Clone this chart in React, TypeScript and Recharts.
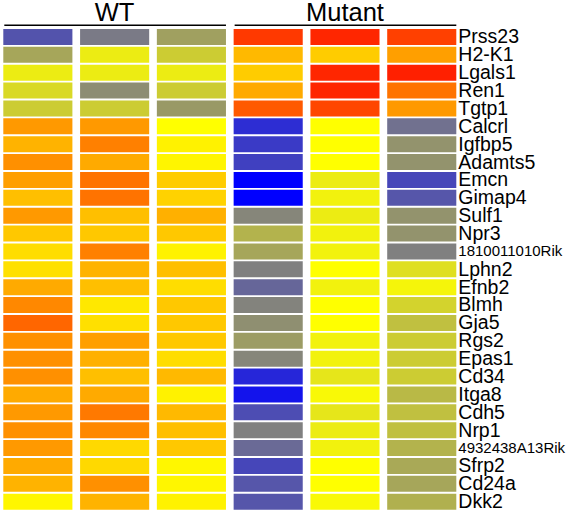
import React from 'react';
import { BarChart, Bar, XAxis, YAxis, Cell } from 'recharts';

const genes = [
  'Prss23', 'H2-K1', 'Lgals1', 'Ren1', 'Tgtp1', 'Calcrl', 'Igfbp5', 'Adamts5', 'Emcn',
  'Gimap4', 'Sulf1', 'Npr3', '1810011010Rik', 'Lphn2', 'Efnb2', 'Blmh', 'Gja5', 'Rgs2',
  'Epas1', 'Cd34', 'Itga8', 'Cdh5', 'Nrp1', '4932438A13Rik', 'Sfrp2', 'Cd24a', 'Dkk2',
];

const groups = ['WT', 'Mutant'];

// relative expression per sample (column)
const wt1 = [-1.35, -0.7, -0.15, -0.3, -0.4, 0.8, 0.6, 0.87, 0.75, 0.5, 0.8, 0.43, 0.27, 0.24, 0.67, 0.93, 1.2, 0.87, 0.87, 0.87, 0.67, 0.8, 0.87, 0.8, 0.67, 0.6, 0.07];
const wt2 = [-1.05, -0.15, -0.15, -0.9, -0.4, 0.8, 1.0, 0.67, 1.1, 1.1, 0.5, 0.43, 1.0, 0.6, 0.5, 0.18, 0.24, 0.75, 0.62, 0.5, 0.67, 1.05, 0.93, 0.3, 0.3, 0.87, 0.6];
const wt3 = [-0.75, -0.4, -0.15, -0.4, -0.8, 0.0, 0.1, 0.08, 0.4, 0.35, 0.62, 0.43, 0.1, 0.5, 0.27, 0.43, 0.43, 0.43, 0.27, 0.55, 0.1, 0.55, 0.5, 0.43, 0.06, 0.07, 0.1];
const mut1 = [1.55, 0.55, 0.4, 0.67, 1.3, -1.65, -1.55, -1.5, -2.0, -2.0, -0.95, -0.6, -0.7, -1.0, -1.2, -0.98, -0.88, -0.78, -0.95, -1.7, -1.85, -1.4, -1.0, -1.17, -1.45, -1.33, -1.33];
const mut2 = [1.7, 0.4, 1.7, 1.7, 1.45, 0.0, 0.0, 0.0, -0.15, -0.1, -0.15, -0.1, -0.1, 0.0, -0.1, 0.0, 0.0, -0.1, -0.1, -0.2, -0.05, -0.2, -0.15, -0.1, 0.0, 0.0, -0.05];
const mut3 = [1.5, 0.75, 1.75, 1.1, 0.8, -1.12, -0.85, -0.85, -1.45, -1.33, -0.85, -0.85, -1.0, -0.25, -0.08, -0.35, -0.5, -0.4, -0.4, -0.4, -0.55, -0.5, -0.5, -0.6, -0.68, -0.7, -0.62];

const columns = [wt1, wt2, wt3, mut1, mut2, mut3];

const data = genes.map((gene, i) => ({ gene, row: i }));

// blue -> grey -> yellow -> red
const stops: [number, number[]][] = [
  [-2, [0, 0, 255]],
  [-1, [128, 128, 128]],
  [0, [255, 255, 0]],
  [2, [255, 0, 0]],
];

function heat(v: number) {
  const t = Math.max(-2, Math.min(2, v));
  for (let k = 0; k < stops.length - 1; k++) {
    const [a, ca] = stops[k];
    const [b, cb] = stops[k + 1];
    if (t <= b) {
      const f = (t - a) / (b - a);
      const c = ca.map((x, j) => Math.round(x + (cb[j] - x) * f));
      return `rgb(${c[0]},${c[1]},${c[2]})`;
    }
  }
  return 'rgb(255,0,0)';
}

const W = 567;
const H = 513;
const AXIS_W = 108;
const M = { top: 28, right: 110.7 - AXIS_W, bottom: 2.5, left: 3.3 };
const CELL = 0.9;
const GAP = 0.1;
const X_MAX = columns.length * CELL + (columns.length - 1) * GAP;
const plotW = W - M.left - M.right - AXIS_W;
const toPx = (u: number) => M.left + (u / X_MAX) * plotW;

const font = '"Liberation Sans", Arial, sans-serif';

const GeneTick = (props: any) => {
  const { x, y, payload } = props;
  const long = String(payload.value).length > 10;
  return (
    <text x={x} y={y} dy={long ? 4.8 : 6.5} fontSize={long ? 15 : 19.5} fill="#000" fontFamily={font} textAnchor="start">
      {payload.value}
    </text>
  );
};

const Header = () => (
  <g>
    {groups.map((g, gi) => {
      const u0 = gi * 3 * (CELL + GAP);
      const u1 = u0 + 3 * CELL + 2 * GAP;
      const x0 = toPx(u0);
      const x1 = toPx(u1);
      return (
        <g key={g}>
          <text x={(x0 + x1) / 2} y={20.7} textAnchor="middle" fontSize={25.5} fontFamily={font} fill="#000">
            {g}
          </text>
          <line x1={x0 + 1} x2={x1} y1={25.3} y2={25.3} stroke="#000" strokeWidth={1.6} />
        </g>
      );
    })}
  </g>
);

export default function App() {
  return (
    <div style={{ position: 'absolute', left: 0, top: 0, width: W, height: H, background: '#fff' }}>
      <BarChart width={W} height={H} data={data} layout="vertical" margin={M} barCategoryGap={1}>
        <XAxis type="number" domain={[0, X_MAX]} hide />
        <YAxis
          type="category"
          dataKey="gene"
          orientation="right"
          width={AXIS_W}
          axisLine={false}
          tickLine={false}
          tickSize={0}
          tickMargin={2}
          interval={0}
          tick={<GeneTick />}
        />
        {columns.map((col, ci) => [
          ci > 0 ? (
            <Bar key={`gap-${ci}`} dataKey={() => GAP} stackId="s" fill="none" isAnimationActive={false} />
          ) : null,
          <Bar key={`col-${ci}`} dataKey={() => CELL} stackId="s" isAnimationActive={false}>
            {data.map((d) => (
              <Cell key={`c-${ci}-${d.row}`} fill={heat(col[d.row])} />
            ))}
          </Bar>,
        ])}
        <Header />
      </BarChart>
    </div>
  );
}
